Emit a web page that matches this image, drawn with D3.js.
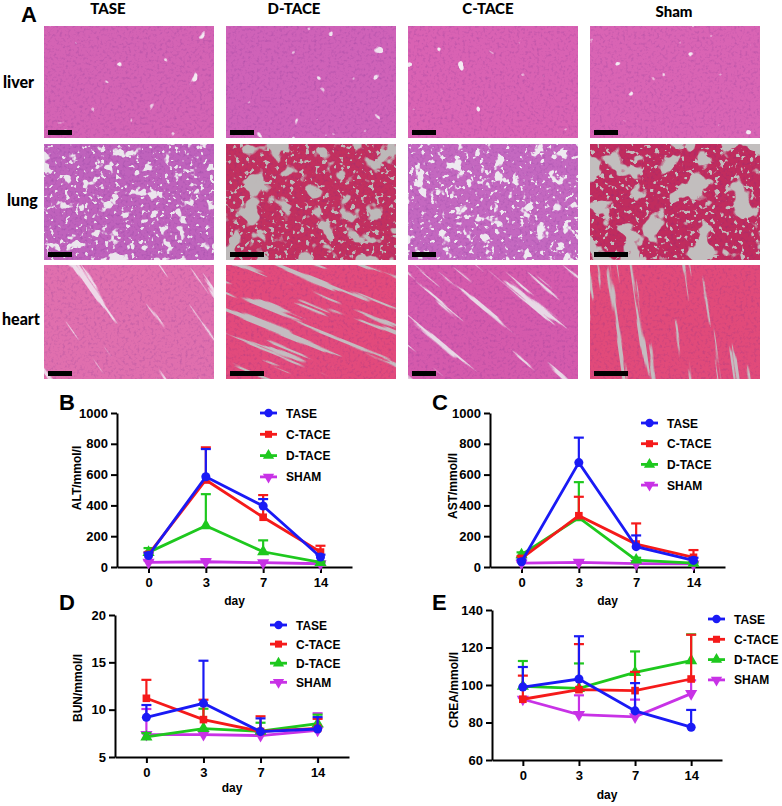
<!DOCTYPE html>
<html>
<head>
<meta charset="utf-8">
<script src="https://cdn.jsdelivr.net/npm/d3@7"></script>
<style>
  body { margin: 0; background: #fff; }
  text { font-family: Arial, "Liberation Sans", sans-serif; font-weight: bold; }
  .hdr { font-family: Lato, "Open Sans", sans-serif; font-weight: 900; }
</style>
</head>
<body>
<script>

// panel A labels
var groupsA = ["TASE", "D-TACE", "C-TACE", "Sham"];
var organs = ["liver", "lung", "heart"];

// charts B-E
var days = ["0", "3", "7", "14"];
var groups = ["TASE", "C-TACE", "D-TACE", "SHAM"];

// rows: TASE, C-TACE, D-TACE, SHAM
var altMean = [[75, 586, 396, 65], [82, 565, 323, 97], [95, 268, 99, 30], [30, 34, 28, 21]];
var altSd   = [[18, 180, 45, 15], [13, 212, 144, 41], [28, 205, 74, 5], [12, 17, 10, 5]];

var astMean = [[34, 678, 132, 43], [56, 333, 149, 63], [80, 320, 45, 25], [25, 30, 22, 20]];
var astSd   = [[16, 162, 73, 17], [14, 123, 134, 47], [15, 231, 15, 5], [8, 10, 6, 5]];

var bunMean = [[9.19, 10.67, 7.68, 7.96], [11.2, 8.95, 7.7, 8.03], [7.12, 8.0, 7.72, 8.52], [7.37, 7.37, 7.26, 7.82]];
var bunSd   = [[1.3, 4.5, 1.4, 1.25], [1.95, 2.1, 1.6, 1.0], [0.4, 2.1, 0.9, 0.95], [2.7, 0.3, 0.3, 1.8]];

var creaMean = [[98.9, 103.2, 86.2, 77.5], [92.4, 97.5, 97, 103.2], [99.3, 98.2, 106.7, 113], [92.4, 84.2, 83, 95.4]];
var creaSd   = [[10.7, 22.8, 14.8, 9.2], [12.6, 24.3, 10, 23.6], [13.5, 13.3, 11.2, 14], [1, 10.3, 9.2, 7.1]];

var colors = ["#1a1af5", "#f51a1a", "#1ec81e", "#c832e6"];
var shapes = [d3.symbolCircle, d3.symbolSquare, d3.symbolTriangle, d3.symbolTriangle];

var svg = d3.select("body").append("svg")
  .attr("width", 782)
  .attr("height", 806);

var defs = svg.append("defs");

// ---------- Panel A: histology tiles (textures only) ----------

var colX = [44, 226, 408, 590];
var rowY = [26, 144, 265];
var rowH = [112, 116, 114];
var tileW = 170;

var tissue = [
  ["#d463b4", "#cf62b8", "#d962b3", "#d964b4"],
  ["#bf62bc", "#c2305f", "#c468c0", "#c02c5e"],
  ["#e06fae", "#e24a7c", "#d55aac", "#e14a7a"]
];
var gaps = [
  ["#f4eaf2", "#f0e4f0", "#f4eaf2", "#f4eaf2"],
  ["#ebe5ed", "#bdb9b9", "#eee8f0", "#c2bebe"],
  ["#eed8e8", "#c4bcc0", "#e8d8e6", "#c4bcc0"]
];
var barLong = [[0, 0, 0, 0], [0, 1, 0, 1], [0, 1, 0, 1]];
var streakAngle = [55, 22, 40, 82];

function noiseFilter(id, freq, oct, seed, thr, sharp, color, maxA) {
  var f = defs.append("filter").attr("id", id)
    .attr("x", 0).attr("y", 0).attr("width", 1).attr("height", 1)
    .attr("color-interpolation-filters", "sRGB");
  f.append("feTurbulence").attr("type", "fractalNoise")
    .attr("baseFrequency", freq).attr("numOctaves", oct).attr("seed", seed).attr("result", "t");
  f.append("feColorMatrix").attr("in", "t").attr("type", "matrix")
    .attr("values", "0 0 0 0 0  0 0 0 0 0  0 0 0 0 0  1 0 0 0 0").attr("result", "a");
  f.append("feComponentTransfer").attr("in", "a").attr("result", "m")
    .append("feFuncA").attr("type", "linear")
    .attr("slope", sharp * maxA).attr("intercept", -thr * sharp * maxA);
  f.append("feFlood").attr("flood-color", color).attr("result", "c");
  f.append("feComposite").attr("in", "c").attr("in2", "m").attr("operator", "in");
}

organs.forEach(function(organ, r) {
  groupsA.forEach(function(grp, c) {
    var x0 = colX[c], y0 = rowY[r], h = rowH[r];
    var id = "t" + r + c;
    defs.append("clipPath").attr("id", "clip" + id)
      .append("rect").attr("x", x0).attr("y", y0).attr("width", tileW).attr("height", h);
    var g = svg.append("g").attr("clip-path", "url(#clip" + id + ")");

    g.append("rect").attr("x", x0).attr("y", y0).attr("width", tileW).attr("height", h)
      .attr("fill", tissue[r][c]);

    // dark speckle
    noiseFilter("m" + id, 0.35, 2, r * 4 + c + 1, 0.5, 3, "#6a2a8a", 0.6);
    g.append("rect").attr("x", x0).attr("y", y0).attr("width", tileW).attr("height", h)
      .attr("filter", "url(#m" + id + ")").attr("opacity", 0.35);

    if (organ === "lung") {
      var big = (c === 1 || c === 3);
      noiseFilter("s" + id, big ? 0.045 : 0.075, 3, 20 + c, big ? 0.56 : 0.63, 16, gaps[r][c], 1);
      g.append("rect").attr("x", x0).attr("y", y0).attr("width", tileW).attr("height", h)
        .attr("filter", "url(#s" + id + ")");
      noiseFilter("f" + id, 0.2, 2, 40 + c, big ? 0.62 : 0.65, 14, gaps[r][c], 1);
      g.append("rect").attr("x", x0).attr("y", y0).attr("width", tileW).attr("height", h)
        .attr("filter", "url(#f" + id + ")");
    } else if (organ === "liver") {
      noiseFilter("s" + id, 0.07, 2, 60 + c, 0.76, 20, gaps[r][c], 1);
      g.append("rect").attr("x", x0).attr("y", y0).attr("width", tileW).attr("height", h)
        .attr("filter", "url(#s" + id + ")");
    } else {
      var cx = x0 + tileW / 2, cy = y0 + h / 2;
      noiseFilter("s" + id, "0.009 0.13", 3, 80 + c, c === 1 ? 0.62 : 0.66, 22, gaps[r][c], 1);
      g.append("rect").attr("x", cx - 160).attr("y", cy - 160).attr("width", 320).attr("height", 320)
        .attr("transform", "rotate(" + streakAngle[c] + "," + cx + "," + cy + ")")
        .attr("filter", "url(#s" + id + ")");
    }

    // scale bar
    var bw = barLong[r][c] ? 34 : 24;
    svg.append("rect").attr("x", x0 + 4).attr("y", y0 + h - 8).attr("width", bw).attr("height", 5)
      .attr("fill", "#000");
  });
});

svg.append("text").attr("x", 21).attr("y", 22).attr("font-size", 22).text("A");

var hdrX = [108, 294, 488, 674];
var hdrY = [14, 14, 14, 17];
groupsA.forEach(function(grp, c) {
  svg.append("text").attr("class", "hdr").attr("x", hdrX[c]).attr("y", hdrY[c])
    .attr("text-anchor", "middle").attr("font-size", 15).text(grp);
});
var rowLabX = [3, 7, 2];
var rowLabY = [88, 206, 325];
organs.forEach(function(o, r) {
  svg.append("text").attr("class", "hdr").attr("x", rowLabX[r]).attr("y", rowLabY[r])
    .attr("font-size", 16).text(o);
});

// ---------- Panels B-E: line charts ----------

function drawChart(o) {
  var x = d3.scalePoint().domain(days).range([o.left, o.right]).padding(0.55);
  var y = d3.scaleLinear().domain(o.domain).range([o.bottom, o.top]);
  var g = svg.append("g");

  var xAxis = g.append("g").attr("transform", "translate(0," + o.bottom + ")")
    .call(d3.axisBottom(x).tickSize(6).tickSizeOuter(0).tickPadding(5));
  var yAxis = g.append("g").attr("transform", "translate(" + o.left + ",0)")
    .call(d3.axisLeft(y).tickValues(o.ticks).tickFormat(d3.format("d"))
      .tickSize(6).tickSizeOuter(0).tickPadding(3));
  [xAxis, yAxis].forEach(function(a) {
    a.selectAll("path, line").attr("stroke", "#000").attr("stroke-width", 2);
    a.selectAll("text").attr("font-size", 13).attr("font-weight", "bold").attr("fill", "#000")
      .attr("font-family", "Arial, 'Liberation Sans', sans-serif");
  });

  g.append("text").attr("x", (o.left + o.right) / 2).attr("y", o.dayY)
    .attr("text-anchor", "middle").attr("font-size", 12).text("day");
  g.append("text").attr("transform", "translate(" + o.labX + "," + o.labY + ") rotate(-90)")
    .attr("text-anchor", "middle").attr("font-size", 12).text(o.label);
  g.append("text").attr("x", o.letterX).attr("y", o.letterY).attr("font-size", 22).text(o.letter);

  var line = d3.line()
    .x(function(d, i) { return x(days[i]); })
    .y(function(d) { return y(d); });

  for (var s = groups.length - 1; s >= 0; s--) {
    var col = colors[s];
    var mean = o.mean[s], sd = o.sd[s];
    var sg = g.append("g");

    mean.forEach(function(m, i) {
      var xi = x(days[i]);
      var top = y(m + sd[i]);
      sg.append("line").attr("x1", xi).attr("x2", xi).attr("y1", y(m)).attr("y2", top)
        .attr("stroke", col).attr("stroke-width", 2.2);
      sg.append("line").attr("x1", xi - 5).attr("x2", xi + 5).attr("y1", top).attr("y2", top)
        .attr("stroke", col).attr("stroke-width", 2.2);
    });

    sg.append("path").datum(mean).attr("d", line)
      .attr("fill", "none").attr("stroke", col).attr("stroke-width", 2.8);

    var sym = d3.symbol().type(shapes[s]).size(s === 1 ? 58 : 64);
    sg.selectAll(".pt").data(mean).enter().append("path")
      .attr("d", sym)
      .attr("transform", function(d, i) {
        return "translate(" + x(days[i]) + "," + y(d) + ")" + (s === 3 ? " rotate(180)" : "");
      })
      .attr("fill", col);
  }

  // legend
  groups.forEach(function(name, s) {
    var ly = o.legY + s * o.legStep;
    g.append("line").attr("x1", o.legX).attr("x2", o.legX + 17).attr("y1", ly).attr("y2", ly)
      .attr("stroke", colors[s]).attr("stroke-width", 2.8);
    g.append("path").attr("d", d3.symbol().type(shapes[s]).size(s === 1 ? 50 : 55))
      .attr("transform", "translate(" + (o.legX + 8.5) + "," + ly + ")" + (s === 3 ? " rotate(180)" : ""))
      .attr("fill", colors[s]);
    g.append("text").attr("x", o.legX + 26).attr("y", ly + 4.5).attr("font-size", 12).text(name);
  });
}

drawChart({
  letter: "B", letterX: 59, letterY: 410,
  left: 117, right: 352, top: 413, bottom: 567,
  domain: [0, 1000], ticks: [0, 200, 400, 600, 800, 1000],
  label: "ALT/mmol/l", labX: 81, labY: 478, dayY: 605,
  mean: altMean, sd: altSd,
  legX: 260, legY: 413, legStep: 21.3
});

drawChart({
  letter: "C", letterX: 432, letterY: 410,
  left: 490, right: 725, top: 413, bottom: 567,
  domain: [0, 1000], ticks: [0, 200, 400, 600, 800, 1000],
  label: "AST/mmol/l", labX: 457, labY: 486, dayY: 605,
  mean: astMean, sd: astSd,
  legX: 641, legY: 423, legStep: 20.7
});

drawChart({
  letter: "D", letterX: 59, letterY: 610,
  left: 115, right: 349, top: 615, bottom: 757,
  domain: [5, 20], ticks: [5, 10, 15, 20],
  label: "BUN/mmol/l", labX: 82, labY: 688, dayY: 792,
  mean: bunMean, sd: bunSd,
  legX: 270, legY: 625, legStep: 19.1
});

drawChart({
  letter: "E", letterX: 432, letterY: 610,
  left: 492, right: 722, top: 610, bottom: 760,
  domain: [60, 140], ticks: [60, 80, 100, 120, 140],
  label: "CREA/mmol/l", labX: 458, labY: 690, dayY: 799,
  mean: creaMean, sd: creaSd,
  legX: 708, legY: 619, legStep: 20.3
});

</script>
</body>
</html>
